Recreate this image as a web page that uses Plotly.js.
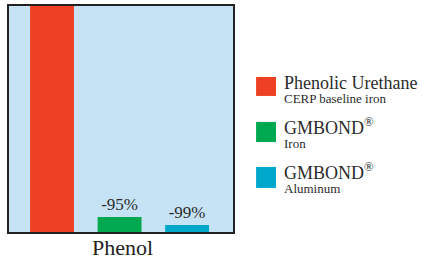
<!DOCTYPE html>
<html>
<head>
<meta charset="utf-8">
<script src="https://cdn.plot.ly/plotly-3.0.1.min.js"></script>
<style>html,body{margin:0;padding:0;background:#fff;}#chart{width:429px;height:260px;}</style>
</head>
<body>
<div id="chart"></div>
<script>
var categories = ["Phenolic Urethane", "GMBOND Iron", "GMBOND Aluminum"];
var values = [100, 6.6, 3.1];
var changeLabels = [null, "-95%", "-99%"];
var colors = ["#ee4023", "#00a94f", "#00a8cc"];
var legendMain = ["Phenolic Urethane", "GMBOND<sup>®</sup>", "GMBOND<sup>®</sup>"];
var legendSub = ["CERP baseline iron", "Iron", "Aluminum"];
var xTitle = "Phenol";

function build() {
  var serif = "Liberation Serif";
  var traces = [];
  for (var k = 0; k < categories.length; k++) {
    var tr = {
      type: "bar",
      x: [categories[k]],
      y: [values[k]],
      marker: {color: colors[k], line: {width: 0}},
      width: 0.65,
      hoverinfo: "none",
      showlegend: false,
      cliponaxis: false
    };
    if (changeLabels[k]) {
      tr.text = [changeLabels[k]];
      tr.textposition = "outside";
      tr.textfont = {family: serif, size: 17, color: "#2b2b2b"};
    }
    traces.push(tr);
  }

  var shapes = [], annotations = [];
  var sqTop = [0.686, 0.487, 0.288];
  var sqBot = [0.602, 0.398, 0.195];
  var mainY = [0.611, 0.4115, 0.212];
  var subY = [0.553, 0.354, 0.155];
  for (var i = 0; i < categories.length; i++) {
    shapes.push({type: "rect", xref: "paper", yref: "paper", x0: 1.103, x1: 1.192, y0: sqBot[i], y1: sqTop[i],
      fillcolor: colors[i], line: {width: 0}});
    annotations.push({xref: "paper", yref: "paper", x: 1.224, y: mainY[i], xanchor: "left", yanchor: "bottom",
      text: legendMain[i], showarrow: false, borderpad: 0, font: {family: serif, size: 18, color: "#2b2b2b"}});
    annotations.push({xref: "paper", yref: "paper", x: 1.224, y: subY[i], xanchor: "left", yanchor: "bottom",
      text: legendSub[i], showarrow: false, borderpad: 0, font: {family: serif, size: 13, color: "#2b2b2b"}});
  }
  annotations.push({xref: "paper", yref: "paper", x: 0.505, y: -0.128, xanchor: "center", yanchor: "bottom",
    text: xTitle, showarrow: false, borderpad: 0, font: {family: serif, size: 22, color: "#222"}});

  var layout = {
    width: 429, height: 260,
    margin: {l: 9, r: 196, t: 6, b: 28, pad: 0},
    paper_bgcolor: "#ffffff",
    plot_bgcolor: "#c6e3f5",
    barmode: "overlay",
    xaxis: {
      type: "category", categoryarray: categories, range: [-0.637, 2.68], showticklabels: false, ticks: "",
      showgrid: false, zeroline: false, showline: true, mirror: true, linecolor: "#222", linewidth: 2
    },
    yaxis: {
      range: [0, 100], showticklabels: false, ticks: "", showgrid: false, zeroline: false,
      showline: true, mirror: true, linecolor: "#222", linewidth: 2
    },
    shapes: shapes,
    annotations: annotations
  };

  Plotly.newPlot("chart", traces, layout, {displayModeBar: false, staticPlot: true});
}
build();
</script>
</body>
</html>
